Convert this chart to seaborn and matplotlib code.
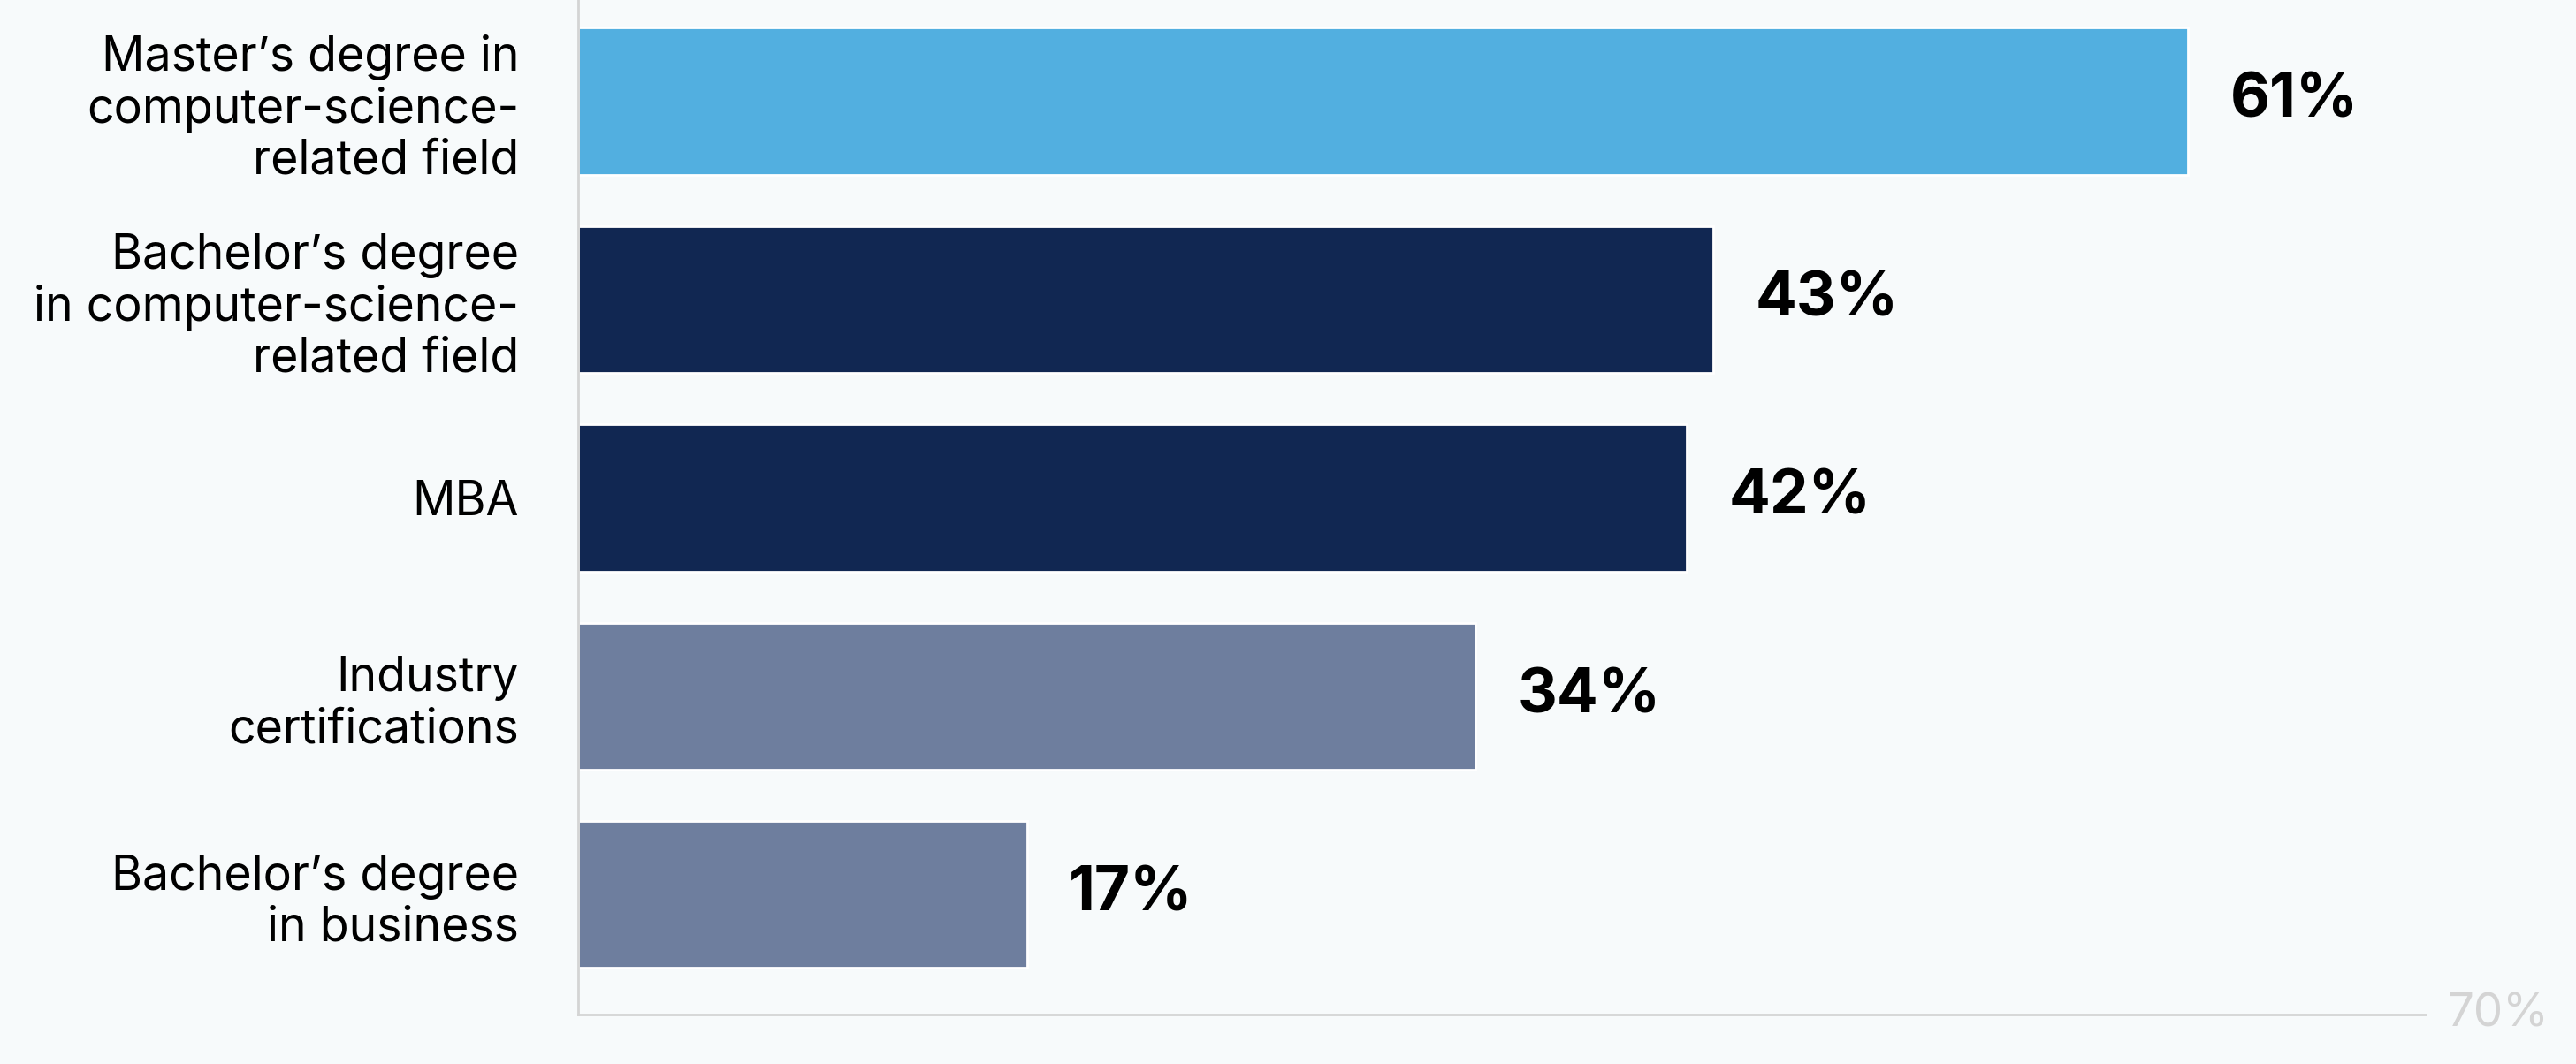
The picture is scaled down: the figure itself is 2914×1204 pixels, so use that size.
import matplotlib
matplotlib.use("Agg")
import matplotlib.pyplot as plt
import matplotlib.transforms as mtransforms
import seaborn as sns
import pandas as pd

categories = [
    "Master’s degree in\ncomputer-science-\nrelated field",
    "Bachelor’s degree\nin computer-science-\nrelated field",
    "MBA",
    "Industry\ncertifications",
    "Bachelor’s degree\nin business",
]
shares = [61, 43, 42, 34, 17]
bar_colors = ["#52afe0", "#112752", "#112752", "#6e7e9e", "#6e7e9e"]

bg = "#f7fafb"
grey = "#d4d4d4"

sns.set_theme(style="white")
plt.rcParams["font.family"] = ["Inter", "DejaVu Sans"]

df = pd.DataFrame({"category": categories, "share": shares})

fig = plt.figure(figsize=(14.57, 6.02), dpi=200, facecolor=bg)
ax = fig.add_axes([0.2244, 0.0465, 0.7173, 0.9535])
ax.set_facecolor(bg)

sns.barplot(data=df, x="share", y="category", hue="category",
            palette=bar_colors, legend=False, width=0.74,
            saturation=1, orient="h", ax=ax)

ax.set_xlim(0, 70)
ax.set_ylim(4.604, -0.51)
ax.set_xlabel("")
ax.set_ylabel("")
ax.set_xticks([])
ax.tick_params(axis="y", length=0, pad=24, labelsize=19.3, labelcolor="black")
for lbl in ax.get_yticklabels():
    lbl.set_linespacing(1.17)

for s in ["top", "right"]:
    ax.spines[s].set_visible(False)
for s in ["left", "bottom"]:
    ax.spines[s].set_color(grey)
    ax.spines[s].set_linewidth(1.0)

# value labels
for i, v in enumerate(shares):
    ax.text(v + 1.6, i, f"{v}%", ha="left", va="center",
            fontsize=25, fontweight="bold", color="black")

# axis max label
trans = mtransforms.blended_transform_factory(ax.transData, ax.transAxes)
ax.text(70.8, 0, "70%", transform=trans, ha="left", va="center",
        fontsize=19, color=grey, clip_on=False)

fig.savefig("out.png", dpi=200, facecolor=bg)
